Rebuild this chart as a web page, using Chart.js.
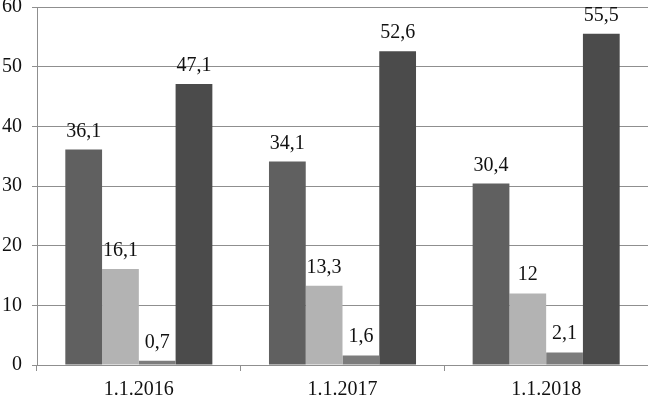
<!DOCTYPE html>
<html>
<head>
<meta charset="utf-8">
<script src="https://cdn.jsdelivr.net/npm/chart.js@4/dist/chart.umd.min.js"></script>
<style>
  html, body { margin: 0; padding: 0; background: #fff; }
  #wrap { width: 648px; height: 398px; }
</style>
</head>
<body>
<div id="wrap"><canvas id="chart" width="648" height="398"></canvas></div>
<script>
// Категории и значения серий
const categories = ['1.1.2016', '1.1.2017', '1.1.2018'];
const series1 = [36.1, 34.1, 30.4];
const series2 = [16.1, 13.3, 12];
const series3 = [0.7, 1.6, 2.1];
const series4 = [47.1, 52.6, 55.5];
const yTicks = [0, 10, 20, 30, 40, 50, 60];

const fontFamily = '"Liberation Serif", "Times New Roman", serif';
const gridColor = '#8f8f8f';

// Подписи значений над столбцами
const valueLabels = {
    id: 'valueLabels',
    afterDatasetsDraw(chart) {
        const ctx = chart.ctx;
        ctx.save();
        ctx.font = '20px ' + fontFamily;
        ctx.fillStyle = '#111';
        ctx.textAlign = 'center';
        ctx.textBaseline = 'alphabetic';
        chart.data.datasets.forEach((ds, i) => {
            const meta = chart.getDatasetMeta(i);
            meta.data.forEach((bar, j) => {
                const text = String(ds.data[j]).replace('.', ',');
                ctx.fillText(text, bar.x, bar.y - 13);
            });
        });
        ctx.restore();
    }
};

new Chart(document.getElementById('chart'), {
    type: 'bar',
    data: {
        labels: categories,
        datasets: [
            { data: series1, backgroundColor: '#606060' },
            { data: series2, backgroundColor: '#b3b3b3' },
            { data: series3, backgroundColor: '#7c7c7c' },
            { data: series4, backgroundColor: '#4b4b4b' }
        ]
    },
    options: {
        responsive: false,
        animation: false,
        layout: { padding: 0 },
        plugins: {
            legend: { display: false },
            tooltip: { enabled: false }
        },
        datasets: {
            bar: { categoryPercentage: 0.722, barPercentage: 1.0 }
        },
        scales: {
            x: {
                grid: {
                    offset: true,
                    drawOnChartArea: false,
                    drawTicks: true,
                    tickLength: 6,
                    color: gridColor
                },
                border: { color: gridColor },
                ticks: {
                    color: '#111',
                    padding: 7,
                    font: { family: fontFamily, size: 20 }
                },
                afterFit(scale) {
                    scale.height = 33;
                    scale.paddingLeft = 0;
                    scale.paddingRight = 0;
                }
            },
            y: {
                min: 0,
                max: 60,
                afterBuildTicks(scale) {
                    scale.ticks = yTicks.map(v => ({ value: v }));
                },
                grid: {
                    color: gridColor,
                    tickLength: 5
                },
                border: { color: gridColor },
                ticks: {
                    color: '#111',
                    padding: 10,
                    font: { family: fontFamily, size: 20 }
                },
                afterFit(scale) {
                    scale.width = 37;
                    scale.paddingTop = 7;
                    scale.paddingBottom = 0;
                }
            }
        }
    },
    plugins: [valueLabels]
});
</script>
</body>
</html>
